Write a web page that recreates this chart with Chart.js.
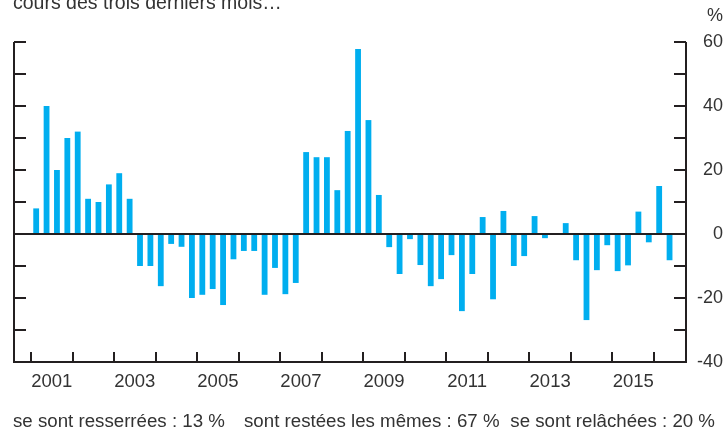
<!DOCTYPE html>
<html>
<head>
<meta charset="utf-8">
<script src="https://cdn.jsdelivr.net/npm/chart.js@4/dist/chart.umd.min.js"></script>
<style>
  html, body { margin: 0; padding: 0; background: #fff; }
  #wrap { position: relative; width: 728px; height: 432px; overflow: hidden; font-family: "Liberation Sans", Arial, sans-serif; color: #333; }
  canvas { position: absolute; left: 0; top: 0; }
  .t { position: absolute; white-space: nowrap; line-height: 1; }
</style>
</head>
<body>
<div id="wrap">
  <canvas id="c" width="728" height="432"></canvas>
  <div class="t" style="left:13px; top:-7px; font-size:19.5px;">cours des trois derniers mois…</div>
  <div class="t" style="right:5px; top:6px; font-size:18px;">%</div>
  <div class="t" style="left:13px; top:412px; font-size:18.7px;">se sont resserrées : 13 %</div>
  <div class="t" style="left:244px; top:412px; font-size:18.7px;">sont restées les mêmes : 67 %</div>
  <div class="t" style="right:13px; top:412px; font-size:18.7px;">se sont relâchées : 20 %</div>
</div>
<script>
// Quarterly net balance (%), 2001 T1 – 2016 T2
const startYear = 2001;
const values = [
  8, 40, 20, 30,          // 2001
  32, 11, 10, 15.5,       // 2002
  19, 11, -10, -10,       // 2003
  -16.3, -3.1, -4, -20,   // 2004
  -19, -17.2, -22.2, -7.9,// 2005
  -5.3, -5.3, -19, -10.6, // 2006
  -18.8, -15.3, 25.6, 24, // 2007
  24, 13.7, 32.2, 57.8,   // 2008
  35.6, 12.2, -4.1, -12.5,// 2009
  -1.6, -9.7, -16.3, -14.1,// 2010
  -6.6, -24.1, -12.5, 5.3,// 2011
  -20.4, 7.2, -10, -6.9,  // 2012
  5.6, -1.3, 0, 3.4,      // 2013
  -8.2, -26.9, -11.3, -3.5,// 2014
  -11.6, -9.8, 7, -2.6,   // 2015
  15, -8.2                // 2016
];
const yearTicks = [2001, 2002, 2003, 2004, 2005, 2006, 2007, 2008, 2009, 2010, 2011, 2012, 2013, 2014, 2015, 2016];
const yearLabels = [2001, 2003, 2005, 2007, 2009, 2011, 2013, 2015];
const yTickValues = [-40, -30, -20, -10, 0, 10, 20, 30, 40, 50, 60];
const yLabelValues = [-40, -20, 0, 20, 40, 60];

const points = values.map((v, i) => ({ x: startYear + i / 4 + 0.125, y: v }));

const INK = '#231f20';
const framePlugin = {
  id: 'frame',
  afterDatasetsDraw(chart) {
    const { ctx, chartArea: a, scales: { x, y } } = chart;
    ctx.save();
    ctx.strokeStyle = INK;
    ctx.lineWidth = 2;
    ctx.lineCap = 'butt';
    ctx.lineJoin = 'miter';
    ctx.beginPath();
    ctx.moveTo(a.left, a.top);
    ctx.lineTo(a.left, a.bottom);
    ctx.lineTo(a.right, a.bottom);
    ctx.lineTo(a.right, a.top);
    ctx.stroke();
    const y0 = y.getPixelForValue(0);
    ctx.beginPath();
    ctx.moveTo(a.left, y0);
    ctx.lineTo(a.right, y0);
    ctx.stroke();
    ctx.beginPath();
    yTickValues.forEach(v => {
      const py = y.getPixelForValue(v);
      ctx.moveTo(a.left, py); ctx.lineTo(a.left + 12, py);
      ctx.moveTo(a.right - 12, py); ctx.lineTo(a.right, py);
    });
    yearTicks.forEach(yr => {
      const px = Math.round(x.getPixelForValue(yr));
      ctx.moveTo(px, a.bottom); ctx.lineTo(px, a.bottom - 10);
    });
    ctx.stroke();
    ctx.restore();
  }
};

new Chart(document.getElementById('c'), {
  type: 'bar',
  data: {
    datasets: [{
      data: points,
      backgroundColor: '#00aeef',
      borderWidth: 0,
      barPercentage: 0.56,
      categoryPercentage: 1
    }]
  },
  options: {
    responsive: false,
    animation: false,
    devicePixelRatio: 1,
    layout: { padding: { left: 14, top: 42, right: 5, bottom: 30 } },
    plugins: { legend: { display: false }, tooltip: { enabled: false } },
    scales: {
      x: {
        type: 'linear',
        offset: false,
        min: 2000.591,
        max: 2016.771,
        grid: { display: false, drawTicks: false },
        border: { display: false },
        afterBuildTicks(scale) { scale.ticks = yearLabels.map(v => ({ value: v + 0.5 })); },
        afterFit(scale) { scale.height = 40; },
        ticks: {
          autoSkip: false,
          maxRotation: 0,
          padding: 9,
          color: '#333',
          font: { family: '"Liberation Sans", Arial, sans-serif', size: 18.5 },
          callback: v => String(Math.floor(v))
        }
      },
      y: {
        position: 'right',
        min: -40,
        max: 60,
        grid: { display: false, drawTicks: false },
        border: { display: false },
        afterBuildTicks(scale) { scale.ticks = yLabelValues.map(v => ({ value: v })); },
        afterFit(scale) { scale.width = 37; },
        ticks: {
          crossAlign: 'far',
          padding: 11,
          color: '#333',
          font: { family: '"Liberation Sans", Arial, sans-serif', size: 18 },
          callback: v => String(v)
        }
      }
    }
  },
  plugins: [framePlugin]
});
</script>
</body>
</html>
